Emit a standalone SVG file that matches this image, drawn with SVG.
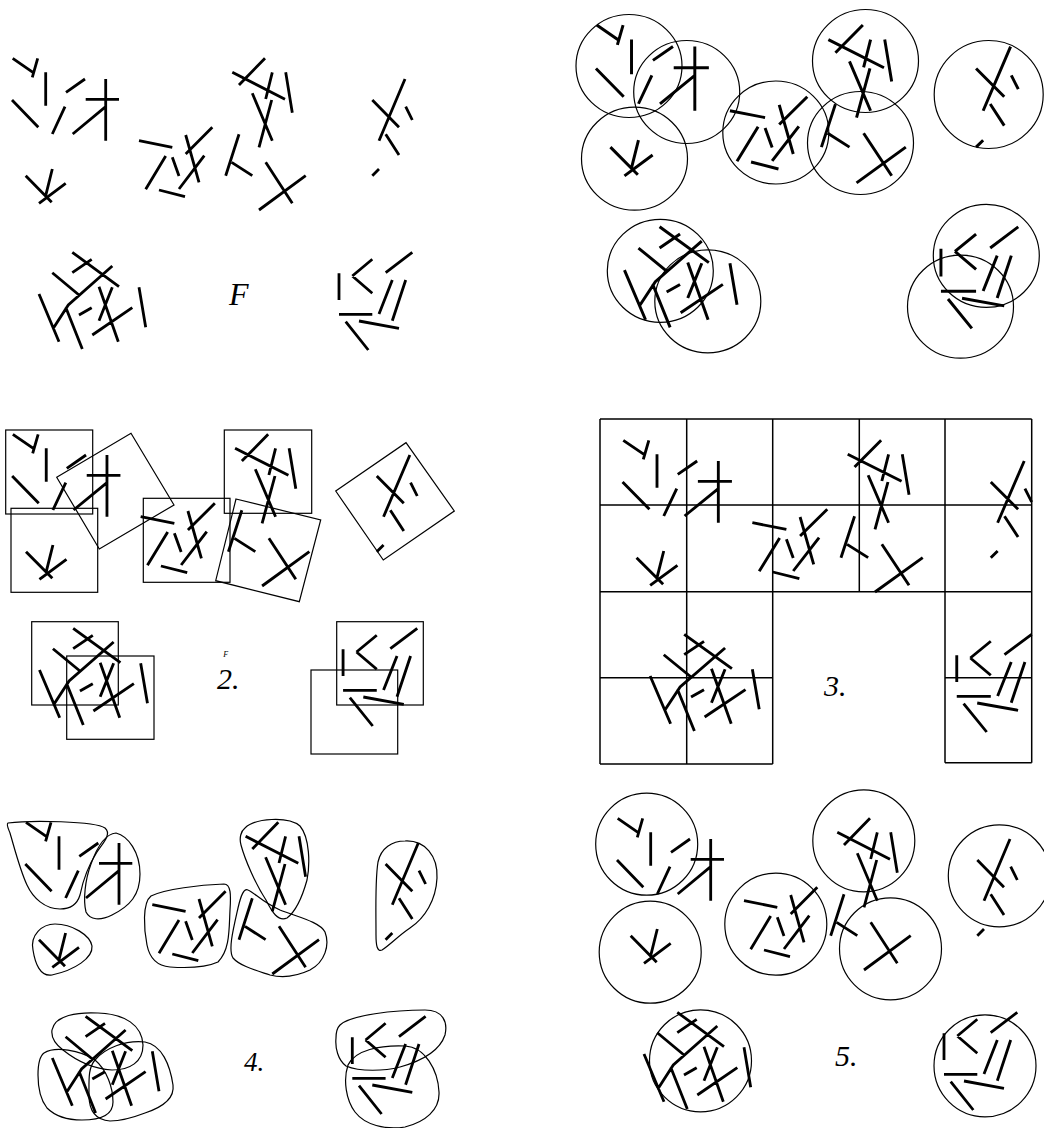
<svg xmlns="http://www.w3.org/2000/svg" xmlns:xlink="http://www.w3.org/1999/xlink" width="1044" height="1128" viewBox="0 0 1044 1128">
<style>
.seg{fill:none;stroke:#000;stroke-width:2.8;stroke-linecap:butt;stroke-linejoin:miter}
.out{fill:none;stroke:#000;stroke-width:1.2}
.grid{fill:none;stroke:#000;stroke-width:1.5}
.lbl{font-family:"Liberation Serif","Times New Roman",serif;font-style:italic;fill:#000}
</style>
<defs>
<path id="segs" class="seg" d="M12.7,58.3 L33.3,72.7 M37.7,58.3 L32.3,77.3 M45.7,72.3 L45.7,105.7 M66,92.3 L85,79 M12,100 L38.3,127.3 M65,106.7 L52.3,134 M85.7,99.3 L119,99.3 M105.7,79 L105.7,140.7 M72.7,134 L105.7,106.7 M25.7,175.7 L51.7,202.3 M52.3,169 L45.7,195.7 M39,203.3 L65.7,183.3 M139,140.7 L172.3,147.3 M165.7,156 L145.7,189.3 M172.3,157.3 L179,176 M185.7,135 L199,182.3 M212.3,127.3 L185.7,154 M204.3,155.7 L179,189 M159,190 L185,196.7 M265,58.3 L239,85 M232.3,72.3 L285,99.3 M272.3,72.3 L265.7,99 M285.7,72.3 L292.3,112.7 M252.3,93.3 L272.3,140.7 M271.7,100 L259,147.3 M239,134.3 L225.7,175.7 M231.7,162.3 L252.3,175.7 M265.7,162.3 L292.3,203.3 M305.7,175.7 L259,210 M405,79 L379,140.7 M372.3,100 L399,127.3 M405.7,106.7 L412.3,120 M385.7,134.3 L399,155 M379,169 L372.3,175.7 M72.3,252.3 L119,286.7 M72.3,272.7 L91.7,259.3 M52.3,272.7 L79,295 M112.3,266 L68.3,305 L53.3,328.3 M39,294 L59,341.7 M65.7,307.3 L82.3,349 M79,315 L91.7,307.7 M99,286.7 L118.3,341.7 M112.3,287.3 L99,320.7 M92.3,335 L132.3,307.7 M139,287.3 L145.7,327.3 M339,273.3 L339,300 M352.3,276 L372.3,259.3 M352.3,276 L372.3,293.3 M385.7,272.7 L412.3,252.3 M392.3,280 L379,314 M405.7,280 L392.3,320.7 M339,314.3 L372.3,314.3 M359,321 L399,328.3 M345.7,321.7 L368.3,350"/>
</defs>

<!-- Panel 1 -->
<g id="panel1">
<use xlink:href="#segs" href="#segs"/>
<text class="lbl" x="229" y="305" font-size="32">F</text>
</g>

<!-- Panel 2: circles -->
<g id="panel2">
<use xlink:href="#segs" href="#segs" transform="matrix(1.055 0 0 1.04 583.3 -35.6)"/>
<ellipse class="out" cx="629" cy="66" rx="53" ry="51.5"/>
<ellipse class="out" cx="686.7" cy="92" rx="53" ry="51.5"/>
<ellipse class="out" cx="634.5" cy="158.7" rx="53" ry="51.5"/>
<ellipse class="out" cx="775.8" cy="132.5" rx="53" ry="51.5"/>
<ellipse class="out" cx="865.5" cy="61" rx="53" ry="51.5"/>
<ellipse class="out" cx="860.5" cy="143" rx="53" ry="51.5"/>
<ellipse class="out" cx="988.7" cy="94.5" rx="54.5" ry="54"/>
<ellipse class="out" cx="660.3" cy="270.8" rx="53" ry="51.5"/>
<ellipse class="out" cx="707.8" cy="301.3" rx="53" ry="51.5"/>
<ellipse class="out" cx="986.3" cy="255.8" rx="53" ry="51.5"/>
<ellipse class="out" cx="960.5" cy="306.7" rx="53" ry="51.5"/>
</g>

<!-- Panel 3: squares -->
<g id="panel3">
<use xlink:href="#segs" href="#segs" transform="matrix(1.012 0 0 1 0 376)"/>
<rect class="out" x="5.7" y="430" width="87" height="84"/>
<rect class="out" x="11" y="508.3" width="86.7" height="84"/>
<polygon class="out" points="56.7,477.3 131,433.3 174,505 99.3,549"/>
<rect class="out" x="143.3" y="498.3" width="86.7" height="84"/>
<rect class="out" x="224.3" y="430" width="87.4" height="83.3"/>
<polygon class="out" points="236,499 320.7,520 299.3,601.7 215.7,580.7"/>
<polygon class="out" points="335.7,491 406,442.7 454.3,511 383.3,560"/>
<rect class="out" x="31.7" y="621.7" width="86.6" height="83.3"/>
<rect class="out" x="66.7" y="656" width="87.3" height="83.3"/>
<rect class="out" x="336.7" y="621.7" width="86.6" height="83.3"/>
<rect class="out" x="311" y="670" width="86.7" height="84"/>
<text class="lbl" x="223.3" y="656.7" font-size="8">F</text>
<text class="lbl" x="217" y="689" font-size="30">2.</text>
</g>

<!-- Panel 4: grid -->
<g id="panel4">
<use xlink:href="#segs" href="#segs" transform="matrix(1.022 0 0 1 610.3 382)"/>
<path class="grid" d="M600,419 H1031.7 M600,505 H1031.7 M600,591.7 H1031.7 M600,677.7 H772.7 M945,677.7 H1031.7 M600,764 H772.7 M945,762.7 H1031.7 M600,419 V764 M686.7,419 V764 M772.7,419 V764 M859.3,419 V591.7 M945,419 V762.7 M1031.7,419 V762.7"/>
<text class="lbl" x="824" y="696" font-size="30">3.</text>
</g>

<!-- Panel 5: blobs -->
<g id="panel5">
<use xlink:href="#segs" href="#segs" transform="translate(13.3 764)"/>
<path class="out" d="M8,823 C30,820 95,821 105,828 C112,834 103,843 97,852 C88,866 83,880 80,895 C77,905 70,909 60,909 C45,909 33,898 27,885 C20,870 15,850 10,833 C8,828 6,824 8,823 Z"/>
<path class="out" d="M116,833 C128,836 140,852 140,874 C140,895 130,906 112,915 C100,921 90,920 86,912 C83,900 85,880 91,864 C96,850 104,834 116,833 Z"/>
<path class="out" d="M33,950 C30,935 42,924 55,924 C72,924 90,935 92,946 C93,958 75,970 52,975 C40,977 35,963 33,950 Z"/>
<path class="out" d="M151,896 C165,889 200,885 224,884 C231,884 231,895 230,910 C229,930 230,950 218,962 C205,968 185,968 170,967 C158,966 150,960 147,945 C144,930 142,903 151,896 Z"/>
<path class="out" d="M245,828 C255,818 288,816 300,826 C310,838 310,865 307,880 C302,898 295,912 287,918 C278,922 272,912 266,900 C256,885 245,860 241,845 C239,838 241,831 245,828 Z"/>
<path class="out" d="M248,890 C255,893 262,902 280,910 C298,917 320,922 325,932 C330,945 325,962 310,970 C295,977 282,978 270,975 C255,970 240,966 233,958 C228,950 233,930 238,908 C241,895 244,888 248,890 Z"/>
<path class="out" d="M405,841 C425,840 438,856 437,878 C436,900 425,918 410,928 C398,936 390,945 382,950 C377,952 376,945 376,935 C376,910 375,880 378,862 C381,848 392,841 405,841 Z"/>
<path class="out" d="M52,1030 C55,1015 78,1012 98,1013 C125,1014 142,1025 143,1045 C143,1062 130,1070 112,1070 C95,1069 78,1062 63,1050 C55,1044 51,1037 52,1030 Z"/>
<path class="out" d="M44,1053 C55,1046 80,1050 95,1060 C107,1070 113,1088 113,1102 C113,1116 100,1120 82,1120 C68,1120 55,1116 47,1108 C39,1098 38,1085 38,1075 C38,1062 40,1056 44,1053 Z"/>
<path class="out" d="M95,1060 C105,1048 125,1040 145,1042 C162,1045 170,1065 173,1085 C175,1100 160,1108 145,1113 C132,1118 120,1121 110,1121 C95,1120 89,1110 89,1095 C89,1080 88,1068 95,1060 Z"/>
<path class="out" d="M340,1025 C350,1015 395,1010 425,1010 C443,1010 448,1022 445,1035 C440,1050 425,1060 400,1067 C385,1071 360,1072 346,1066 C338,1060 335,1048 336,1038 C336,1032 337,1028 340,1025 Z"/>
<path class="out" d="M348,1065 C355,1050 380,1045 405,1046 C425,1047 438,1070 439,1092 C440,1110 425,1122 405,1127 C385,1130 365,1125 355,1112 C346,1100 343,1080 348,1065 Z"/>
<text class="lbl" x="244" y="1071" font-size="27">4.</text>
</g>

<!-- Panel 6: circles -->
<g id="panel6">
<use xlink:href="#segs" href="#segs" transform="translate(605 760)"/>
<circle class="out" cx="646.7" cy="844.2" r="51"/>
<circle class="out" cx="650.2" cy="952.2" r="51"/>
<circle class="out" cx="775.8" cy="924.2" r="51"/>
<circle class="out" cx="863.8" cy="840.8" r="51"/>
<circle class="out" cx="890.5" cy="948.8" r="51"/>
<circle class="out" cx="999.3" cy="875.8" r="51"/>
<circle class="out" cx="700.5" cy="1060.8" r="51"/>
<circle class="out" cx="985" cy="1065.8" r="51"/>
<text class="lbl" x="835" y="1066" font-size="30">5.</text>
</g>
</svg>
